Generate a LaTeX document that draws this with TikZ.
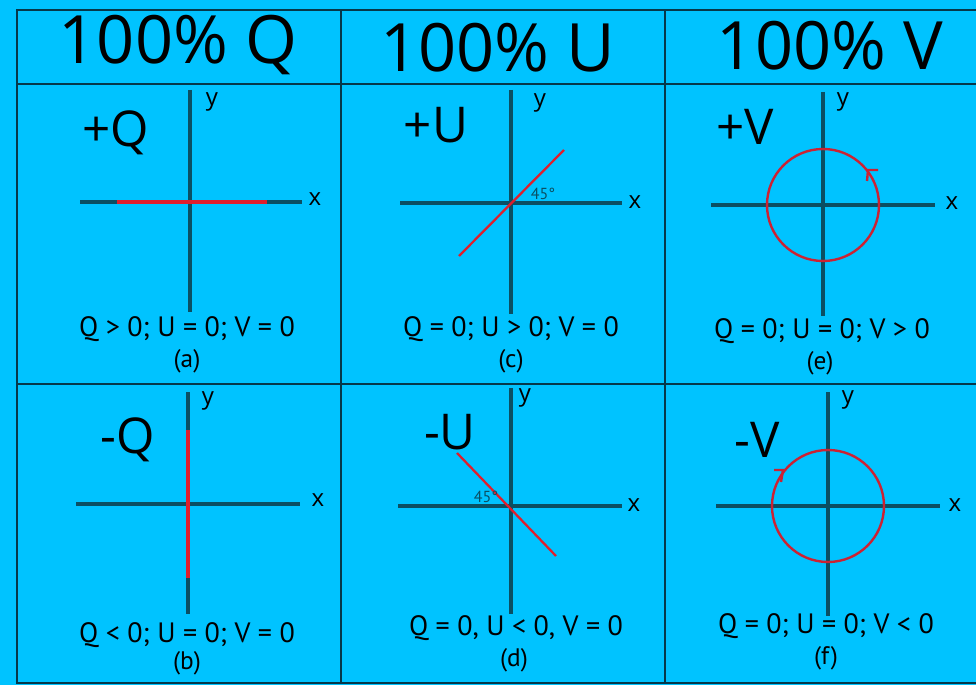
\documentclass[tikz,border=0pt]{standalone}
\usepackage{fontspec}
\setmainfont{Open Sans}
\newfontfamily\condfont{PT Sans}
\definecolor{bg}{HTML}{00C3FF}
\definecolor{grid}{HTML}{06384A}
\definecolor{axis}{HTML}{0B4F63}
\definecolor{pol}{HTML}{E01E2C}
\definecolor{circ}{HTML}{CC2233}
\begin{document}
\begin{tikzpicture}[x=0.75pt,y=-0.75pt,
  tableline/.style={grid,line width=2.2pt},
  axisline/.style={axis,line width=2.4pt},
  polline/.style={pol,line width=2.6pt},
  circline/.style={circ,line width=1.8pt},
  header/.style={font=\fontsize{50}{50}\selectfont,inner sep=0pt},
  biglabel/.style={font=\fontsize{37}{37}\selectfont,inner sep=0pt},
  axlabel/.style={font=\fontsize{18}{18}\selectfont,inner sep=0pt},
  cond/.style={font=\condfont\fontsize{21}{21}\selectfont,inner sep=0pt},
  sub/.style={font=\condfont\fontsize{19}{19}\selectfont,inner sep=0pt},
  angle/.style={font=\condfont\fontsize{12}{12}\selectfont,inner sep=0pt,axis}]
\fill[bg] (0,0) rectangle (976,685);
\useasboundingbox (0,0) rectangle (976,685);
% table
\draw[tableline] (980,10) -- (17,10) -- (17,683) -- (980,683);
\draw[tableline] (17,84) -- (980,84);
\draw[tableline] (17,384) -- (980,384);
\draw[tableline] (341,10) -- (341,683);
\draw[tableline] (665,10) -- (665,683);
% headers
\node[header] (hq) at (178,45) {100\% Q};
\node[header] (hu) at (498,48) {100\% U};
\node[header] (hv) at (830,46) {100\% V};
% ---- (a) +Q
\draw[axisline] (80,202) -- (302,202);
\draw[axisline] (190,90) -- (190,312);
\draw[polline] (117,202) -- (267,202);
\node[axlabel] (ax) at (315,199) {x};
\node[axlabel] (ay) at (212,102) {y};
\node[biglabel] (lq) at (116,133) {+Q};
\node[cond] (ca) at (187,329) {Q > 0; U = 0; V = 0};
\node[sub] (sa) at (187,361) {(a)};
% ---- (b) -Q
\draw[axisline] (76,504) -- (300,504);
\draw[axisline] (188,392) -- (188,614);
\draw[polline,line width=3pt] (188,430) -- (188,578);
\node[axlabel] (bx) at (318,500) {x};
\node[axlabel] (by) at (208,401) {y};
\node[biglabel] (lmq) at (128,440) {-Q};
\node[cond] (cb) at (187,635) {Q < 0; U = 0; V = 0};
\node[sub] (sb) at (187,663) {(b)};
% ---- (c) +U
\draw[axisline] (400,203) -- (622,203);
\draw[axisline] (511,90) -- (511,314);
\draw[polline,line width=1.7pt] (459,256) -- (564,150);
\node[axlabel] (cx) at (635,202) {x};
\node[axlabel] (cy) at (540,103) {y};
\node[angle] (c45) at (543,194) {45\textdegree};
\node[biglabel] (lu) at (436,125) {+U};
\node[cond] (cc) at (511,329) {Q = 0; U > 0; V = 0};
\node[sub] (sc) at (511,361) {(c)};
% ---- (d) -U
\draw[axisline] (398,506) -- (622,506);
\draw[axisline] (511,388) -- (511,614);
\draw[polline,line width=1.7pt] (457,453) -- (556,556);
\node[axlabel] (dx) at (634,505) {x};
\node[axlabel] (dy) at (525,398) {y};
\node[angle] (d45) at (486,497) {45\textdegree};
\node[biglabel] (lmu) at (450,432) {-U};
\node[cond] (cd) at (516,628) {Q = 0, U < 0, V = 0};
\node[sub] (sd) at (514,660) {(d)};
% ---- (e) +V
\draw[axisline] (711,205) -- (935,205);
\draw[axisline] (823,92) -- (823,316);
\draw[circline] (823,205) circle[radius=56];
\draw[circline] (878,170) -- (868,170) -- (867,181);
\node[axlabel] (ex) at (952,203) {x};
\node[axlabel] (ey) at (843,102) {y};
\node[biglabel] (lv) at (745,127) {+V};
\node[cond] (ce) at (822,331) {Q = 0; U = 0; V > 0};
\node[sub] (se) at (820,363) {(e)};
% ---- (f) -V
\draw[axisline] (716,506) -- (940,506);
\draw[axisline] (828,392) -- (828,616);
\draw[circline] (828,506) circle[radius=56];
\draw[circline] (774,470) -- (783,470) -- (781,482);
\node[axlabel] (fx) at (955,505) {x};
\node[axlabel] (fy) at (848,400) {y};
\node[biglabel] (lmv) at (757,440) {-V};
\node[cond] (cf) at (826,626) {Q = 0; U = 0; V < 0};
\node[sub] (sf) at (826,658) {(f)};
\end{tikzpicture}
\end{document}
